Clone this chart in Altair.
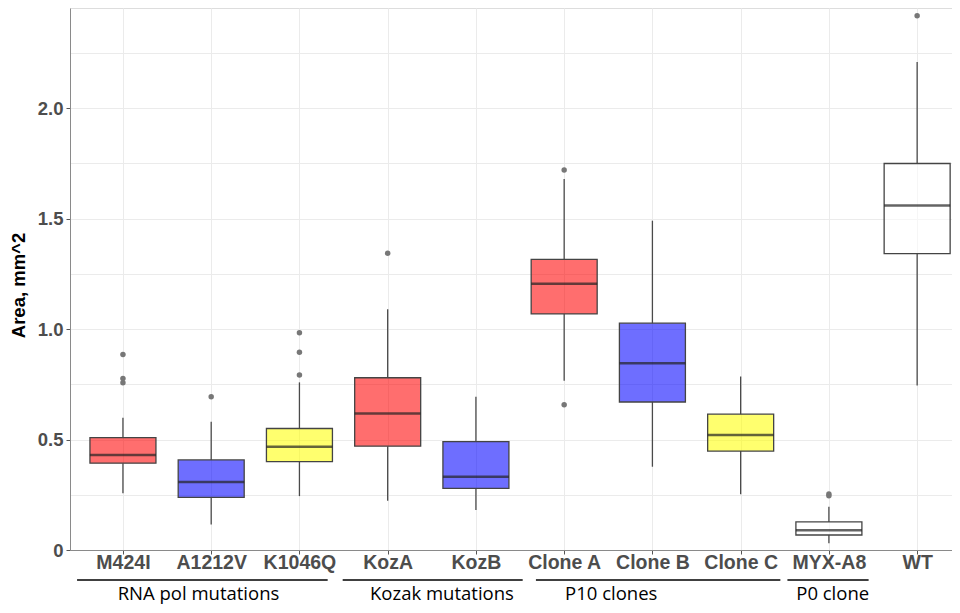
import json
import altair as alt
import pandas as pd

# ---- data ----
cats = ["M424I", "A1212V", "K1046Q", "KozA", "KozB",
        "Clone A", "Clone B", "Clone C", "MYX-A8", "WT"]
q1 = [0.393, 0.238, 0.400, 0.470, 0.279, 1.069, 0.670, 0.448, 0.068, 1.342]
q3 = [0.509, 0.408, 0.550, 0.780, 0.491, 1.316, 1.027, 0.615, 0.127, 1.750]
med = [0.430, 0.308, 0.468, 0.618, 0.332, 1.205, 0.845, 0.521, 0.089, 1.560]
wlo = [0.257, 0.116, 0.244, 0.223, 0.181, 0.766, 0.377, 0.252, 0.030, 0.745]
whi = [0.599, 0.581, 0.759, 1.090, 0.694, 1.680, 1.491, 0.786, 0.196, 2.210]
fill_grp = ["red", "blue", "yellow", "red", "blue",
            "red", "blue", "yellow", "white", "white"]

out_cat = ["M424I", "M424I", "M424I", "A1212V", "K1046Q", "K1046Q", "K1046Q",
           "KozA", "Clone A", "Clone A", "MYX-A8", "MYX-A8", "WT"]
out_val = [0.885, 0.776, 0.757, 0.694, 0.984, 0.895, 0.792,
           1.344, 1.721, 0.658, 0.254, 0.246, 2.419]

# group annotations, in category-index units (M424I = 0)
grp_names = ["RNA pol mutations", "Kozak mutations", "P10 clones", "P0 clone"]
grp_start = [-0.52, 2.49, 4.68, 7.53]
grp_end = [2.32, 4.53, 7.45, 8.45]
grp_label_x = [-0.06, 2.80, 5.01, 7.63]

y_ticks = [0, 0.25, 0.5, 0.75, 1.0, 1.25, 1.5, 1.75, 2.0, 2.25]

idx = list(range(len(cats)))
pos = {c: i for i, c in enumerate(cats)}
df = pd.DataFrame(dict(cat=cats, idx=idx, q1=q1, q3=q3, med=med, wlo=wlo, whi=whi, grp=fill_grp))
odf = pd.DataFrame(dict(cat=out_cat, idx=[pos[c] for c in out_cat], val=out_val))
gdf = pd.DataFrame(dict(name=grp_names, gs=grp_start, ge=grp_end, lx=grp_label_x))

W, H = 882, 542
BOX = 66
YTITLE = "Area, mm^2"
XDOM = [-0.6, 9.395]  # panel is cropped on the right, as in the reference

xscale = alt.Scale(domain=XDOM, nice=False, zero=False, padding=0)
xaxis = alt.Axis(title=None, values=idx, labelExpr=json.dumps(cats) + "[datum.value]",
                 labelAngle=0, labelFont="Liberation Sans", labelOverlap=False,
                 labelFlush=False, labelBound=False,
                 labelFontWeight="bold", labelFontSize=19.5, labelColor="#4D4D4D",
                 labelPadding=-1, tickSize=4, tickColor="#555555",
                 domainColor="#8a8a8a", grid=True, gridColor="#EBEBEB")
xenc = alt.X("idx:Q", scale=xscale, axis=xaxis)

yscale = alt.Scale(domain=[0, 2.454], nice=False, zero=False, padding=0)
yaxis = alt.Axis(
    values=y_ticks,
    labelExpr="datum.value % 0.5 === 0 ? (datum.value === 0 ? '0' : format(datum.value, '.1f')) : ''",
    tickOpacity={"condition": {"test": "datum.value % 0.5 === 0", "value": 1}, "value": 0},
    labelFont="Liberation Sans", labelFontWeight="bold", labelFontSize=18.5,
    labelColor="#4D4D4D", labelPadding=3, tickSize=4, tickColor="#555555",
    domainColor="#8a8a8a", grid=True, gridColor="#EBEBEB",
    title=YTITLE, titleFont="Liberation Sans", titleFontWeight="bold",
    titleFontSize=18.5, titleColor="#000000", titleAngle=-90,
    titleX=-52, titleY=277, titleAlign="center", titleBaseline="middle",
)

base = alt.Chart(df)

w_lo = base.mark_rule(color="#4a4a4a", strokeWidth=1.3).encode(
    x=xenc, y=alt.Y("wlo:Q", scale=yscale, axis=yaxis, title=YTITLE), y2="q1:Q")
w_hi = base.mark_rule(color="#4a4a4a", strokeWidth=1.3).encode(
    x=xenc, y=alt.Y("q3:Q", scale=yscale, title=YTITLE), y2="whi:Q")
box = base.mark_bar(size=BOX, stroke="#444444", strokeWidth=1.3, fillOpacity=0.57).encode(
    x=xenc, y=alt.Y("q1:Q", scale=yscale, title=YTITLE), y2="q3:Q",
    fill=alt.Fill("grp:N", legend=None,
                  scale=alt.Scale(domain=["red", "blue", "yellow", "white"],
                                  range=["#FF0000", "#0000FF", "#FFFF00", "#FFFFFF"])))
median = base.mark_tick(size=BOX, thickness=2.5, color="#222222", orient="horizontal").encode(
    x=xenc, y=alt.Y("med:Q", scale=yscale, title=YTITLE))
outl = alt.Chart(odf).mark_circle(size=30, color="#777777", opacity=1).encode(
    x=xenc, y=alt.Y("val:Q", scale=yscale, title=YTITLE))

inner = alt.layer(w_lo, w_hi, box, median, outl)

ascale = alt.Scale(domain=XDOM, nice=False, zero=False, padding=0)
glines = alt.Chart(gdf).mark_rule(color="#000000", strokeWidth=1.6).encode(
    x=alt.X("gs:Q", scale=ascale,
            axis=alt.Axis(orient="top", labels=False, ticks=False, grid=False,
                          domain=True, domainColor="#8a8a8a", title=None)),
    x2="ge:Q", y=alt.value(572))
gtext = alt.Chart(gdf).mark_text(align="left", baseline="alphabetic",
                                 font="Open Sans", fontSize=18.5, color="#000000").encode(
    x=alt.X("lx:Q", scale=ascale, axis=None), y=alt.value(592), text="name:N")
annot = alt.layer(glines, gtext)

chart = alt.layer(inner, annot).resolve_scale(x="independent").properties(
    width=W, height=H,
    padding={"left": 62, "top": 0, "right": 0, "bottom": 56},
    autosize=alt.AutoSizeParams(type="none"),
).configure_view(stroke=None).configure(background="white")

chart.save("out.html", embed_options={"renderer": "svg", "actions": False})
